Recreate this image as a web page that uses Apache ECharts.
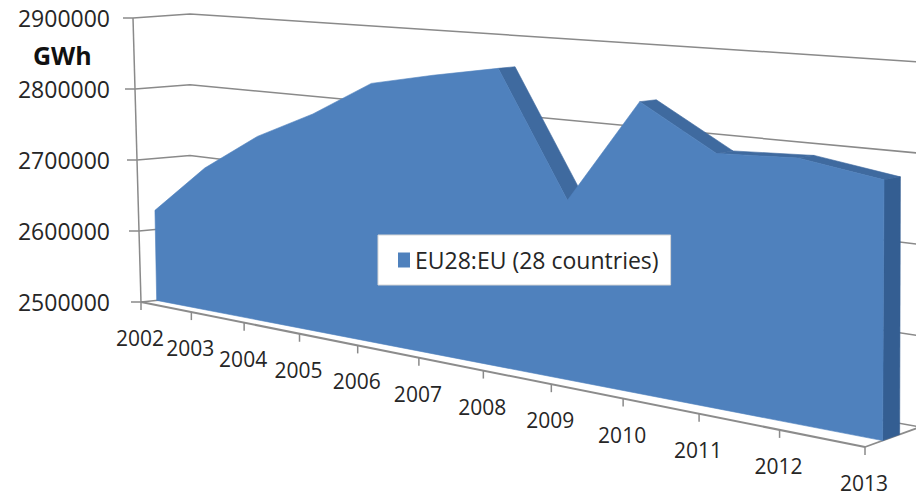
<!DOCTYPE html>
<html><head><meta charset="utf-8">
<script src="https://cdn.jsdelivr.net/npm/echarts/dist/echarts.min.js"></script>
<style>html,body{margin:0;padding:0;background:#fff}#c{width:916px;height:497px}</style>
</head><body><div id="c"></div>
<script>
// ---- data ----
const categories = ['2002','2003','2004','2005','2006','2007','2008','2009','2010','2011','2012','2013'];
const values = [2627000, 2696000, 2748000, 2786000, 2833000, 2850000, 2865000, 2714000, 2839000, 2788000, 2792000, 2778000];
const yTicks = [2500000, 2600000, 2700000, 2800000, 2900000];
const seriesName = 'EU28:EU (28 countries)';
const unitLabel = 'GWh';

// ---- 3D view (layout only) ----
const BOX = {
  F0L:[141,302], F1L:[133,18], F0R:[865,447], F1R:[868,67],
  B0L:[190,297], B1L:[190,14], B0R:[920,427], B1R:[920,62]
};
const PERSP = 0.2525, Z1 = 0.32, Z2 = 0.63;
const FONT = "'Open Sans', 'DejaVu Sans', sans-serif";
const GRID_COLOR = '#8a8a8a';
function lerp(a,b,s){return [a[0]+(b[0]-a[0])*s, a[1]+(b[1]-a[1])*s];}
function warp(t){return (1-PERSP)*t/(1-PERSP*t);}
function proj(t,y,z){
  const u = warp(t);
  const f0=lerp(BOX.F0L,BOX.F0R,u), f1=lerp(BOX.F1L,BOX.F1R,u);
  const b0=lerp(BOX.B0L,BOX.B0R,u), b1=lerp(BOX.B1L,BOX.B1R,u);
  return lerp(lerp(f0,f1,y), lerp(b0,b1,y), z);
}
function norm(c, cs){return [(c[0]-cs.x)/cs.width, (cs.y+cs.height-c[1])/cs.height];}
function line(a,b,w,col){return {type:'line', shape:{x1:a[0],y1:a[1],x2:b[0],y2:b[1]}, style:{stroke:col||GRID_COLOR, lineWidth:w||1.5}, silent:true};}
function poly(pts,col){return {type:'polygon', shape:{points:pts}, style:{fill:col, stroke:col, lineWidth:0.6}, silent:true};}

const chart = echarts.init(document.getElementById('c'), null, {renderer:'svg'});
const last = categories.length-1;

chart.setOption({
  animation:false,
  backgroundColor:'#fff',
  title:{text:unitLabel, left:33, top:42, padding:0,
    textStyle:{fontSize:25, fontWeight:'bold', fontFamily:FONT, color:'#111'}},
  legend:{data:[{name:seriesName, icon:'rect'}], left:378, top:235, orient:'horizontal',
    padding:[12,12,12,20], itemWidth:12, itemHeight:15, itemGap:5,
    backgroundColor:'#fff', borderColor:'#d6d6d6', borderWidth:1,
    textStyle:{fontSize:23, lineHeight:26, fontFamily:FONT, color:'#262626'}, selectedMode:false},
  grid:{left:133, top:18, width:732, height:284},
  xAxis:{type:'category', data:categories, boundaryGap:false, show:false},
  yAxis:{type:'value', min:2500000, max:2900000, interval:100000,
    axisLine:{show:false}, axisTick:{show:false}, splitLine:{show:false},
    axisLabel:{margin:23, fontSize:23, fontFamily:FONT, color:'#262626', formatter:function(v){return String(v);}}},
  series:[
    { // walls + gridlines
      type:'custom', name:'walls', z:1, silent:true,
      data: yTicks.map(v=>[0, v]),
      renderItem:function(params, api){
        const cs = params.coordSys;
        const v = api.value(1);
        const p0 = norm(api.coord([0, v]), cs);
        const p1 = norm(api.coord([last, v]), cs);
        const y = p0[1];
        const a = proj(p0[0], y, 0), b = proj(p0[0], y, 1), c = proj(p1[0], y, 1);
        return {type:'group', children:[
          {type:'polyline', shape:{points:[a,b,c]}, style:{stroke:GRID_COLOR, lineWidth:1.5, fill:null}, silent:true},
          line(a, [a[0]-10, a[1]], 1.5)
        ]};
      }
    },
    { // floor, axis lines, category ticks and labels
      type:'custom', name:'floor', z:2, silent:true,
      data: categories.map((c,i)=>[i, yTicks[0]]),
      renderItem:function(params, api){
        const cs = params.coordSys;
        const i = api.value(0);
        const p = norm(api.coord([i, api.value(1)]), cs);
        const base = proj(p[0], 0, 0);
        const ch = [
          line(base, [base[0], base[1]+8], 1.5),
          {type:'text', x:base[0]-1, y:base[1]+36, silent:true,
            style:{text:categories[i], fontSize:21, lineHeight:21, fontFamily:FONT, fill:'#262626',
              align:'center', verticalAlign:'middle', textAlign:'center', textVerticalAlign:'middle'}}
        ];
        if (params.dataIndexInside === 0) {
          const q = norm(api.coord([last, api.value(1)]), cs);
          const fl = proj(p[0],0,0), fr = proj(q[0],0,0), br = proj(q[0],0,1), tl = proj(p[0],1,0);
          ch.push(line(fl, fr, 2, '#8c8c8c'));
          ch.push(line(fr, br, 1.8, '#8c8c8c'));
          ch.push(line(fl, tl, 1.5));
        }
        return {type:'group', children:ch};
      }
    },
    { // the 3D area
      type:'custom', name:seriesName, z:3,
      itemStyle:{color:'#4F81BD'},
      data: values.map((v,i)=>[i, v]),
      renderItem:function(params, api){
        if (params.dataIndexInside !== 0) return null;
        const cs = params.coordSys;
        const n = values.length;
        const pts = [];
        for (let j=0;j<n;j++) pts.push(norm(api.coord([api.value(0,j), api.value(1,j)]), cs));
        const ch = [];
        for (let j=0;j<n-1;j++){
          const a = proj(pts[j][0], pts[j][1], Z1), b = proj(pts[j+1][0], pts[j+1][1], Z1);
          const c = proj(pts[j+1][0], pts[j+1][1], Z2), d = proj(pts[j][0], pts[j][1], Z2);
          const cr = (b[0]-a[0])*(d[1]-a[1]) - (b[1]-a[1])*(d[0]-a[0]);
          if (cr < 0) ch.push(poly([a,b,c,d], '#3F6A9F'));
        }
        const L = pts[n-1];
        ch.push(poly([proj(L[0],0,Z1), proj(L[0],L[1],Z1), proj(L[0],L[1],Z2), proj(L[0],0,Z2)], '#345E92'));
        const front = pts.map(p=>proj(p[0], p[1], Z1));
        front.push(proj(pts[n-1][0], 0, Z1));
        front.push(proj(pts[0][0], 0, Z1));
        ch.push(poly(front, '#4F81BD'));
        return {type:'group', children:ch};
      }
    }
  ]
});
</script>
</body></html>
